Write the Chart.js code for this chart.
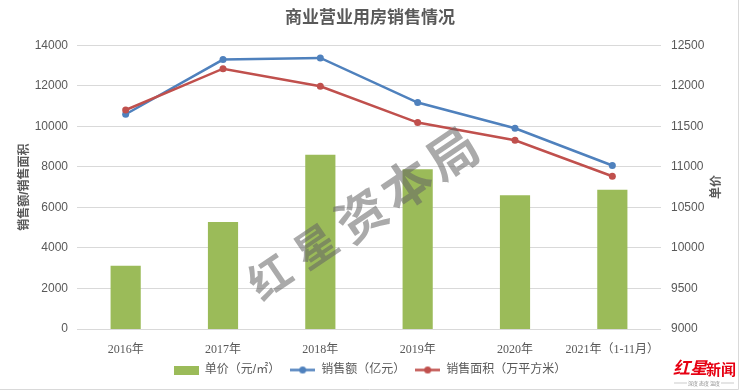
<!DOCTYPE html>
<html>
<head>
<meta charset="utf-8">
<script src="https://cdn.jsdelivr.net/npm/chart.js@4.4.1/dist/chart.umd.min.js"></script>
<style>
  html, body { margin: 0; padding: 0; background: #fff; }
</style>
</head>
<body>
<canvas id="chart" width="740" height="392"></canvas>
<script>
// data
const years = ['2016年', '2017年', '2018年', '2019年', '2020年', '2021年（1-11月）'];
const unitPrice = [9780, 10320, 11150, 10970, 10650, 10720];   // 单价（元/㎡）, right axis
const salesAmount = [10600, 13300, 13380, 11180, 9910, 8070];  // 销售额（亿元）
const salesArea = [10810, 12850, 11980, 10190, 9320, 7540];    // 销售面积（万平方米）

const GREEN = '#9BBB59';
const BLUE = '#4F81BD';
const RED = '#C0504D';
const TEXT = '#595959';
const GRID = '#D9D9D9';
const SANS = "'Liberation Sans', 'Noto Sans CJK SC', sans-serif";
const SERIF = "'Liberation Serif', 'Noto Sans CJK SC', serif";

// little legend icons, Excel style
function boxIcon(color) {
    const c = document.createElement('canvas');
    c.width = 25; c.height = 9;
    const g = c.getContext('2d');
    g.fillStyle = color;
    g.fillRect(0, 0, 25, 9);
    return c;
}
function lineIcon(color) {
    const c = document.createElement('canvas');
    c.width = 25; c.height = 9;
    const g = c.getContext('2d');
    g.strokeStyle = color;
    g.lineWidth = 2.5;
    g.beginPath(); g.moveTo(0, 4.5); g.lineTo(25, 4.5); g.stroke();
    g.fillStyle = color;
    g.beginPath(); g.arc(12.5, 4.5, 3.5, 0, Math.PI * 2); g.fill();
    return c;
}
const legendIcons = [boxIcon(GREEN), lineIcon(BLUE), lineIcon(RED)];

const decorPlugin = {
    id: 'decor',
    afterDatasetsDraw: (chart) => {
        const { ctx } = chart;
        // watermark 红星资本局
        ctx.save();
        const chars = ['红', '星', '资', '本', '局'];
        const cx = 361, cy = 215, ang = -34 * Math.PI / 180, step = 55;
        ctx.fillStyle = 'rgba(100,100,100,0.55)';
        ctx.textAlign = 'center';
        ctx.textBaseline = 'middle';
        chars.forEach((ch, i) => {
            const d = (i - 2) * step;
            ctx.save();
            ctx.translate(cx + d * Math.cos(ang), cy + d * Math.sin(ang));
            ctx.rotate(ang);
            ctx.font = (i < 2 ? 'bold 42px ' : 'bold 50px ') + "'Noto Sans CJK SC', sans-serif";
            ctx.fillText(ch, 0, 0);
            ctx.restore();
        });
        ctx.restore();
    },
    afterDraw: (chart) => {
        const { ctx } = chart;
        ctx.save();
        // right axis title, reads bottom to top
        ctx.translate(717, 187);
        ctx.rotate(-Math.PI / 2);
        ctx.fillStyle = TEXT;
        ctx.font = 'bold 12px ' + SANS;
        ctx.textAlign = 'center';
        ctx.textBaseline = 'middle';
        ctx.fillText('单价', 0, 0);
        ctx.restore();

        // logo 红星新闻
        ctx.save();
        ctx.fillStyle = '#E60012';
        ctx.textBaseline = 'middle';
        ctx.font = 'italic bold 17px ' + "'Noto Sans CJK SC', sans-serif";
        ctx.fillText('红星', 673, 368);
        ctx.font = 'bold 15px ' + "'Noto Sans CJK SC', serif";
        ctx.fillText('新闻', 706, 369);
        ctx.fillStyle = '#888';
        ctx.font = '5px ' + "'Noto Sans CJK SC', sans-serif";
        ctx.textAlign = 'center';
        ctx.fillText('深度 态度 温度', 704, 383);
        ctx.strokeStyle = '#aaa';
        ctx.lineWidth = 0.6;
        ctx.beginPath();
        ctx.moveTo(674, 383); ctx.lineTo(687, 383);
        ctx.moveTo(721, 383); ctx.lineTo(734, 383);
        ctx.stroke();

        // frame edges
        ctx.strokeStyle = GRID;
        ctx.lineWidth = 1;
        ctx.beginPath();
        ctx.moveTo(738.5, 0); ctx.lineTo(738.5, 389.5); ctx.lineTo(0, 389.5);
        ctx.stroke();
        ctx.restore();
    }
};

new Chart(document.getElementById('chart').getContext('2d'), {
    data: {
        labels: years,
        datasets: [{
            type: 'bar',
            label: '单价（元/㎡）',
            data: unitPrice,
            yAxisID: 'yRight',
            backgroundColor: GREEN,
            categoryPercentage: 1,
            barPercentage: 0.31,
            order: 2
        }, {
            type: 'line',
            label: '销售额（亿元）',
            data: salesAmount,
            yAxisID: 'yLeft',
            borderColor: BLUE,
            backgroundColor: BLUE,
            borderWidth: 2.5,
            pointRadius: 3.5,
            pointBackgroundColor: BLUE,
            pointBorderWidth: 0,
            tension: 0,
            order: 1
        }, {
            type: 'line',
            label: '销售面积（万平方米）',
            data: salesArea,
            yAxisID: 'yLeft',
            borderColor: RED,
            backgroundColor: RED,
            borderWidth: 2.5,
            pointRadius: 3.5,
            pointBackgroundColor: RED,
            pointBorderWidth: 0,
            tension: 0,
            order: 0
        }]
    },
    options: {
        responsive: false,
        animation: false,
        devicePixelRatio: 1,
        layout: { padding: { left: 0, right: 0, top: 0, bottom: 6 } },
        plugins: {
            title: {
                display: true,
                text: '商业营业用房销售情况',
                color: TEXT,
                font: { family: SANS, size: 17, weight: 'bold' },
                padding: { top: 8, bottom: 17 }
            },
            legend: {
                position: 'bottom',
                labels: {
                    color: TEXT,
                    font: { family: SANS, size: 12 },
                    usePointStyle: true,
                    pointStyleWidth: 25,
                    boxHeight: 9,
                    padding: 10,
                    sort: (a, b) => a.datasetIndex - b.datasetIndex,
                    generateLabels: (chart) => {
                        const items = Chart.defaults.plugins.legend.labels.generateLabels(chart);
                        items.forEach(it => { it.pointStyle = legendIcons[it.datasetIndex]; });
                        return items;
                    }
                }
            },
            tooltip: { enabled: false }
        },
        scales: {
            x: {
                grid: { display: false },
                border: { display: false },
                ticks: {
                    color: TEXT,
                    font: { family: SERIF, size: 12 },
                    padding: 6,
                    maxRotation: 0
                },
                afterFit: (scale) => { scale.height = 25; }
            },
            yLeft: {
                type: 'linear',
                position: 'left',
                min: 0,
                max: 14000,
                ticks: {
                    stepSize: 2000,
                    color: TEXT,
                    font: { family: SANS, size: 12 },
                    padding: 9,
                    callback: (v) => String(v)
                },
                grid: { color: GRID, drawTicks: false },
                border: { display: false },
                title: {
                    display: true,
                    text: '销售额/销售面积',
                    color: TEXT,
                    font: { family: SANS, size: 12, weight: 'bold' },
                    padding: { top: 17, bottom: 0 }
                },
                afterFit: (scale) => { scale.width = 77; }
            },
            yRight: {
                type: 'linear',
                position: 'right',
                min: 9000,
                max: 12500,
                ticks: {
                    stepSize: 500,
                    color: TEXT,
                    font: { family: SANS, size: 12 },
                    padding: 10,
                    callback: (v) => String(v)
                },
                grid: { display: false, drawTicks: false },
                border: { display: false },
                afterFit: (scale) => { scale.width = 79; }
            }
        }
    },
    plugins: [decorPlugin]
});
</script>
</body>
</html>
